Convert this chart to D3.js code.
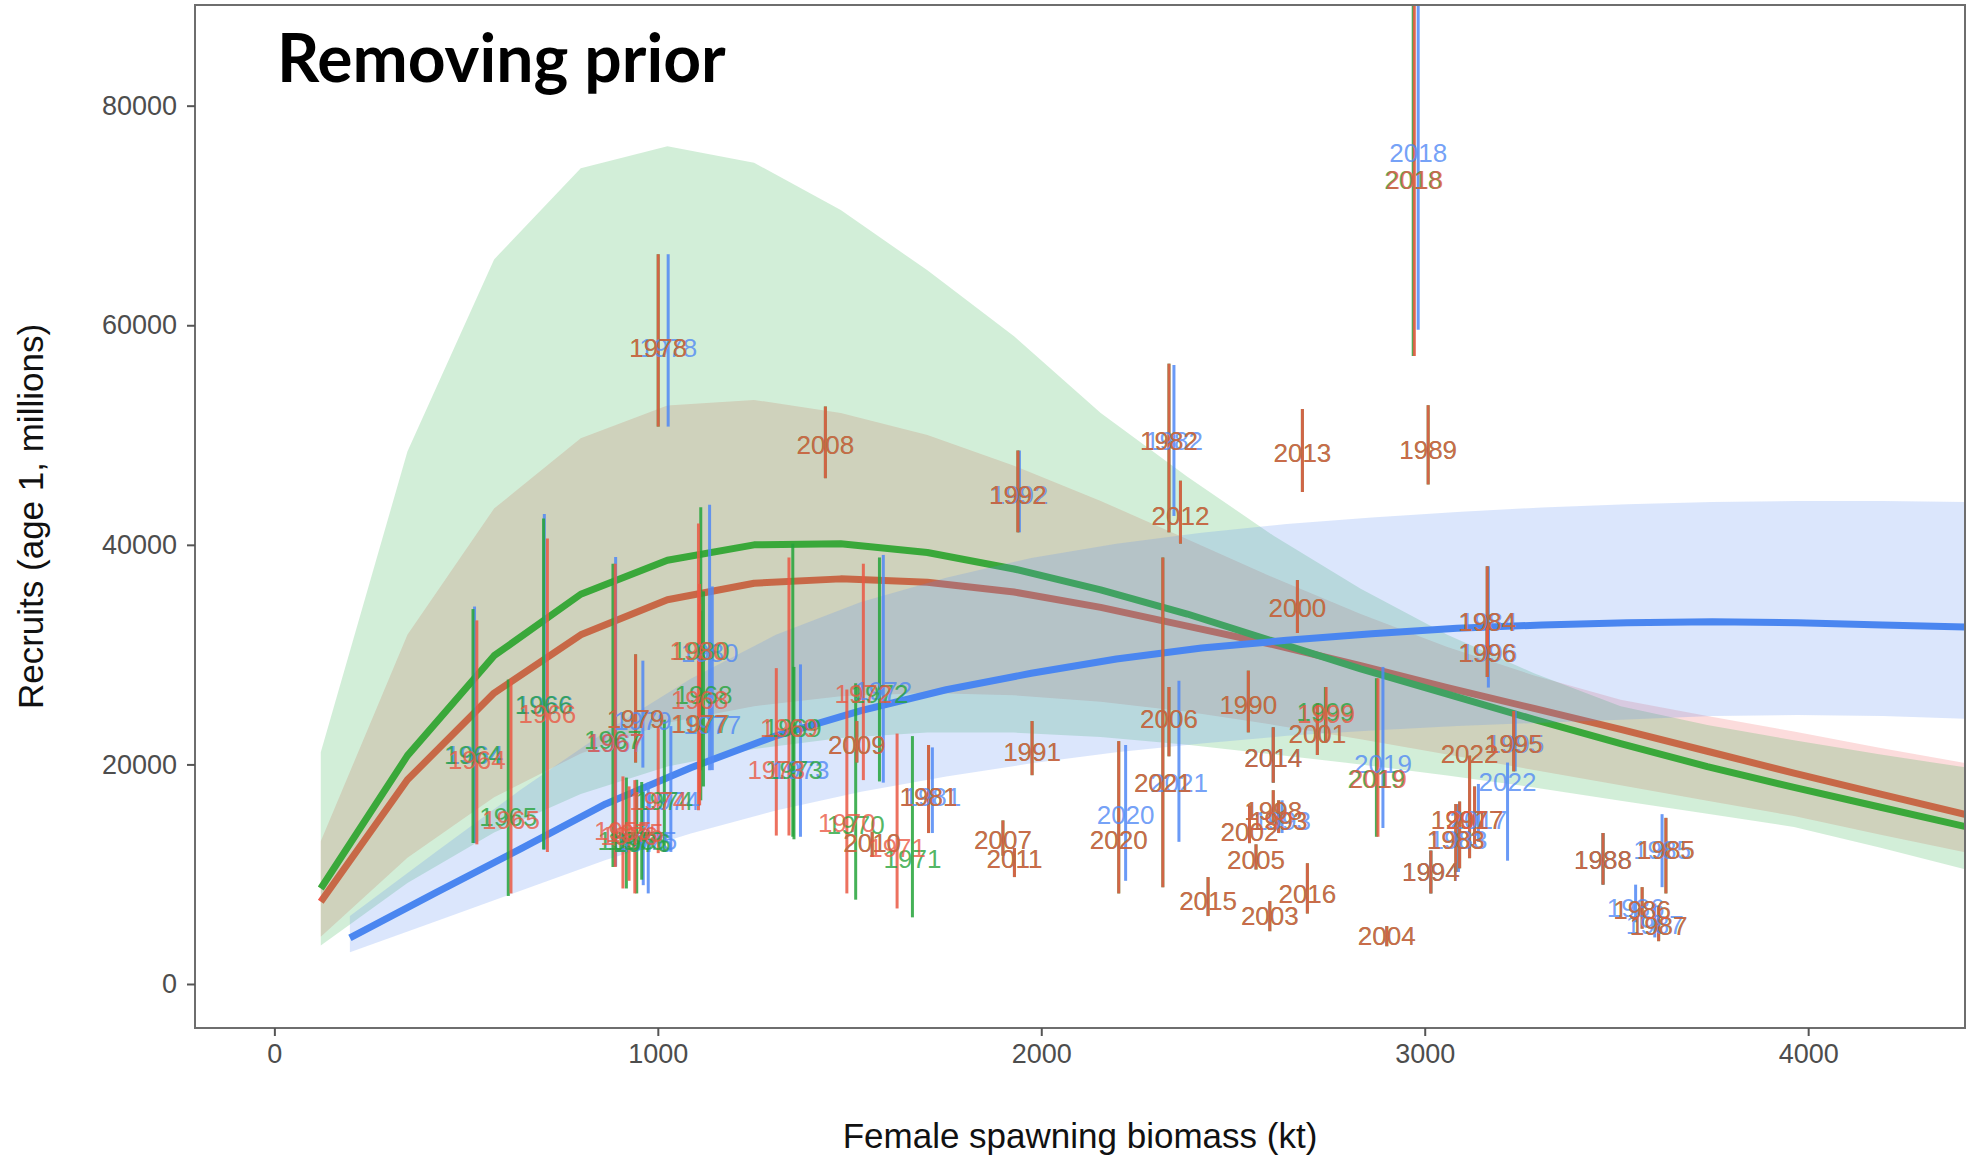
<!DOCTYPE html>
<html>
<head>
<meta charset="utf-8">
<script src="https://cdn.jsdelivr.net/npm/d3@7"></script>
<style>
body { margin: 0; background: #fff; }
text { font-family: "Liberation Sans", Arial, sans-serif; }
</style>
</head>
<body>
<svg width="1973" height="1159"></svg>
<script>
// fitted stock-recruit curves on a biomass grid (kt)
const fitSsb = [121, 347, 573, 799, 1025, 1251, 1477, 1703, 1929, 2155, 2381, 2607, 2833, 3059, 3285, 3511, 3737, 3963, 4189, 4415]
const redFit = [7500, 18600, 26500, 31800, 35000, 36500, 36900, 36600, 35700, 34300, 32600, 30900, 29000, 27000, 25100, 23200, 21200, 19200, 17300, 15400]
const redLo = [4300, 11500, 17000, 21000, 23800, 25300, 26200, 26500, 26300, 25700, 24800, 23600, 22300, 20900, 19500, 18100, 16700, 15300, 13600, 11950]
const redHi = [13000, 31800, 43300, 49700, 52700, 53200, 52000, 50000, 47200, 44000, 40500, 37000, 33700, 30700, 28100, 25900, 24400, 23000, 21500, 20100]
const greenFit = [8700, 20800, 29900, 35500, 38600, 40000, 40100, 39300, 37800, 35900, 33700, 31200, 28700, 26400, 24100, 21900, 19800, 17900, 16100, 14300]
const greenLo = [3500, 9200, 13800, 17300, 19800, 21400, 22400, 22900, 22900, 22500, 21800, 20900, 20000, 19000, 17900, 16700, 15500, 14300, 12400, 10400]
const greenHi = [21100, 48500, 66000, 74300, 76300, 74800, 70500, 65000, 59000, 52000, 46200, 40800, 36000, 31800, 28300, 25300, 23600, 22200, 20900, 19700]

const blueSsb = [197, 420, 642, 864, 1086, 1308, 1530, 1752, 1974, 2196, 2418, 2640, 2862, 3084, 3306, 3528, 3750, 3972, 4194, 4415]
const blueFit = [4200, 8300, 12300, 16400, 19700, 22600, 24900, 26800, 28300, 29600, 30600, 31300, 31900, 32400, 32700, 32900, 33000, 32900, 32700, 32500]
const blueLo = [2900, 5700, 8500, 11300, 13700, 15800, 17500, 18900, 20100, 21100, 21900, 22600, 23100, 23500, 23800, 24100, 24400, 24500, 24400, 24150]
const blueHi = [6200, 12000, 17700, 23000, 27800, 31800, 34800, 37000, 38800, 40100, 41100, 41900, 42500, 43000, 43400, 43700, 43900, 44000, 44000, 43900]

// yearly estimates: [year, biomass, recruits, lower, upper]
const redPts = [
    [1955, 909, 13980, 8700, 18910], [1975, 940, 13750, 8250, 18570], [1976, 925, 13520, 9400, 18000],
    [1964, 528, 20400, 12720, 33120], [1965, 617, 15010, 8250, 27730], [1966, 712, 24640, 12030, 40570],
    [1967, 889, 22000, 10660, 38280], [1968, 1109, 25900, 16270, 36440], [1969, 1342, 23380, 13520, 38850],
    [1970, 1493, 14670, 8250, 26820], [1971, 1624, 12380, 6880, 22810], [1972, 1536, 26470, 18570, 38280],
    [1973, 1309, 19480, 13520, 28770], [1974, 1001, 16730, 11920, 23490],
    [1977, 1109, 23720, 17420, 34610], [1978, 1001, 57990, 50770, 66470],
    [1979, 942, 24180, 20170, 30030], [1980, 1106, 30370, 15820, 41940], [1981, 1706, 17080, 13750, 21770],
    [1982, 2333, 49510, 41140, 56500], [1983, 3081, 13180, 10200, 16390], [1984, 3163, 33010, 30030, 38050],
    [1985, 3629, 12260, 8250, 15130], [1986, 3567, 6760, 5040, 8820], [1987, 3610, 5270, 3900, 7110],
    [1988, 3465, 11350, 9050, 13750], [1989, 3009, 48710, 45500, 52720], [1990, 2540, 25440, 22920, 28540],
    [1991, 1976, 21200, 19020, 23950], [1992, 1939, 44580, 41140, 48590], [1993, 2619, 14900, 13750, 16730],
    [1994, 3016, 10200, 8250, 12150], [1995, 3232, 21890, 19370, 24870], [1996, 3163, 30140, 27960, 32890],
    [1997, 3091, 15010, 10540, 16620], [1998, 2605, 15820, 14780, 17650], [1999, 2743, 24640, 22000, 27050],
    [2000, 2668, 34270, 31970, 36790], [2001, 2720, 22810, 20860, 25560], [2002, 2543, 13870, 12830, 16270],
    [2003, 2596, 6190, 4810, 7560], [2004, 2901, 4360, 3440, 5270], [2005, 2560, 11350, 10430, 12720],
    [2006, 2333, 24180, 20740, 27050], [2007, 1900, 13180, 11690, 14900], [2008, 1437, 49160, 46070, 52600],
    [2009, 1519, 21770, 20170, 23950], [2010, 1559, 12830, 11570, 13870], [2011, 1930, 11460, 9740, 12380],
    [2012, 2363, 42630, 40110, 45840], [2013, 2681, 48360, 44810, 52370], [2014, 2605, 20630, 18340, 23380],
    [2015, 2435, 7560, 6190, 9740], [2016, 2694, 8250, 6420, 11000], [2017, 3130, 15010, 12720, 17990],
    [2018, 2973, 73230, 57190, 99000], [2019, 2878, 18680, 13410, 27850], [2020, 2202, 13180, 8250, 22120],
    [2021, 2317, 18340, 8820, 38850], [2022, 3117, 20970, 11460, 20800]
]

const greenPts = [
    [1955, 918, 13060, 8700, 18800], [1975, 945, 13060, 8250, 18600], [1976, 958, 12840, 9500, 18400],
    [1964, 518, 20860, 12840, 34150], [1965, 610, 15200, 8020, 27730], [1966, 702, 25440, 12260, 42400],
    [1967, 883, 22300, 10660, 38280], [1968, 1119, 26360, 17990, 35760], [1969, 1352, 23380, 13410, 40110],
    [1970, 1516, 14550, 7680, 27390], [1971, 1664, 11460, 6070, 22580], [1972, 1578, 26470, 18450, 38850],
    [1973, 1355, 19480, 13180, 28880], [1974, 1017, 16730, 12030, 24070],
    [1977, 1112, 23720, 16730, 34000], [1978, 1001, 57990, 50770, 66470],
    [1979, 942, 24180, 20170, 30030], [1980, 1112, 30370, 19480, 43430], [1981, 1706, 17080, 13750, 21770],
    [1982, 2333, 49510, 41140, 56500], [1983, 3081, 13180, 10200, 16390], [1984, 3163, 33010, 30030, 38050],
    [1985, 3629, 12260, 8250, 15130], [1986, 3567, 6760, 5040, 8820], [1987, 3610, 5270, 3900, 7110],
    [1988, 3465, 11350, 9050, 13750], [1989, 3009, 48710, 45500, 52720], [1990, 2540, 25440, 22920, 28540],
    [1991, 1976, 21200, 19020, 23950], [1992, 1939, 44580, 41140, 48590], [1993, 2619, 14900, 13750, 16730],
    [1994, 3016, 10200, 8250, 12150], [1995, 3232, 21890, 19370, 24870], [1996, 3163, 30140, 27960, 32890],
    [1997, 3091, 15010, 10540, 16620], [1998, 2605, 15820, 14780, 17650], [1999, 2741, 24780, 22000, 27050],
    [2000, 2668, 34270, 31970, 36790], [2001, 2720, 22810, 20860, 25560], [2002, 2543, 13870, 12830, 16270],
    [2003, 2596, 6190, 4810, 7560], [2004, 2901, 4360, 3440, 5270], [2005, 2560, 11350, 10430, 12720],
    [2006, 2333, 24180, 20740, 27050], [2007, 1900, 13180, 11690, 14900], [2008, 1437, 49160, 46070, 52600],
    [2009, 1519, 21770, 20170, 23950], [2010, 1559, 12830, 11570, 13870], [2011, 1930, 11460, 9740, 12380],
    [2012, 2363, 42630, 40110, 45840], [2013, 2681, 48360, 44810, 52370], [2014, 2605, 20630, 18340, 23380],
    [2015, 2435, 7560, 6190, 9740], [2016, 2694, 8250, 6420, 11000], [2017, 3130, 15010, 12720, 17990],
    [2018, 2970, 73230, 57190, 99000], [2019, 2874, 18680, 13410, 27850], [2020, 2202, 13180, 8250, 22120],
    [2021, 2317, 18340, 8820, 38850], [2022, 3117, 20970, 11460, 20800]
]

const bluePts = [
    [1964, 522, 20860, 12840, 34380], [1966, 704, 25440, 12260, 42800], [1967, 890, 22000, 10700, 38900],
    [1972, 1588, 26700, 18340, 39080], [1973, 1372, 19480, 13410, 29110], [1974, 1034, 16730, 12030, 23490],
    [1975, 975, 13060, 8250, 18340], [1976, 962, 12840, 9000, 18000], [1977, 1142, 23610, 19480, 36210],
    [1978, 1027, 57990, 50770, 66470], [1979, 961, 23950, 19710, 29450], [1980, 1135, 30140, 19480, 43660],
    [1981, 1716, 17080, 13750, 21550], [1982, 2346, 49510, 42630, 56380], [1983, 3088, 13180, 10200, 16390],
    [1984, 3166, 33010, 30000, 38050], [1985, 3619, 12260, 8820, 15470], [1986, 3550, 6990, 5620, 9050],
    [1987, 3600, 5390, 4240, 7330], [1988, 3465, 11350, 9050, 13750], [1992, 1943, 44580, 41140, 48590],
    [1993, 2628, 14900, 13750, 16730], [1994, 3016, 10200, 8250, 12150], [1995, 3236, 21890, 19370, 24870],
    [1996, 3166, 30140, 27000, 32890], [2014, 2605, 20630, 18340, 23380], [2017, 3140, 15010, 12950, 18220],
    [2018, 2983, 75750, 59590, 99000], [2019, 2891, 20060, 14210, 28880], [2020, 2220, 15470, 9400, 21770],
    [2021, 2359, 18340, 12950, 27620], [2022, 3216, 18450, 11230, 20170]
]

const xTicks = [0, 1000, 2000, 3000, 4000]
const yTicks = [0, 20000, 40000, 60000, 80000]

const svg = d3.select("svg")
const panel = {left: 195, right: 1965, top: 5, bottom: 1028}

const x = d3.scaleLinear().domain([-207, 4409]).range([panel.left, panel.right])
const y = d3.scaleLinear().domain([-4008, 89170]).range([panel.bottom, panel.top])

svg.append("defs").append("clipPath").attr("id", "clip")
    .append("rect")
    .attr("x", panel.left).attr("y", panel.top)
    .attr("width", panel.right - panel.left).attr("height", panel.bottom - panel.top)

const plot = svg.append("g").attr("clip-path", "url(#clip)")

// drawn in this order: red, then green, then blue ribbons cover the lines below them
const series = [
    {ssb: fitSsb, fit: redFit, lo: redLo, hi: redHi, pts: redPts,
        fill: "rgb(240,80,80)", line: "#F2584A", mark: "#EA5843"},
    {ssb: fitSsb, fit: greenFit, lo: greenLo, hi: greenHi, pts: greenPts,
        fill: "rgb(30,170,60)", line: "#3AA83A", mark: "#25A33A"},
    {ssb: blueSsb, fit: blueFit, lo: blueLo, hi: blueHi, pts: bluePts,
        fill: "rgb(90,140,240)", line: "#4A86F0", mark: "#5088F5"}
]

const area = d3.area()
    .x(d => x(d[0]))
    .y0(d => y(d[1]))
    .y1(d => y(d[2]))

const line = d3.line()
    .x(d => x(d[0]))
    .y(d => y(d[1]))

series.forEach(s => {
    const band = s.ssb.map((v, i) => [v, s.lo[i], s.hi[i]])
    const mid = s.ssb.map((v, i) => [v, s.fit[i]])

    plot.append("path")
        .datum(band)
        .attr("d", area)
        .style("fill", s.fill)
        .style("fill-opacity", s === series[2] ? 0.22 : 0.2)

    plot.append("path")
        .datum(mid)
        .attr("d", line)
        .style("fill", "none")
        .style("stroke", s.line)
        .style("stroke-width", 7)
        .style("stroke-linejoin", "round")
})

// error bars then year labels, blue underneath, red on top
const order = [series[2], series[1], series[0]]

order.forEach(s => {
    plot.append("g")
        .selectAll("line")
        .data(s.pts)
        .enter()
        .append("line")
        .attr("x1", d => x(d[1]))
        .attr("x2", d => x(d[1]))
        .attr("y1", d => y(d[3]))
        .attr("y2", d => y(d[4]))
        .style("stroke", s.mark)
        .style("stroke-width", 3)
        .style("stroke-opacity", 0.85)
})

order.forEach(s => {
    plot.append("g")
        .selectAll("text")
        .data(s.pts)
        .enter()
        .append("text")
        .attr("x", d => x(d[1]))
        .attr("y", d => y(d[2]))
        .attr("dy", "0.36em")
        .style("text-anchor", "middle")
        .style("font-size", "26px")
        .style("fill", s.mark)
        .style("fill-opacity", 0.8)
        .text(d => d[0])
})

// panel border
svg.append("rect")
    .attr("x", panel.left).attr("y", panel.top)
    .attr("width", panel.right - panel.left).attr("height", panel.bottom - panel.top)
    .style("fill", "none")
    .style("stroke", "#6e6e6e")
    .style("stroke-width", 2)

const xAxis = svg.append("g")
    .attr("transform", `translate(0, ${panel.bottom})`)
    .call(d3.axisBottom(x).tickValues(xTicks).tickSize(8).tickPadding(8).tickFormat(d3.format("d")))

const yAxis = svg.append("g")
    .attr("transform", `translate(${panel.left}, 0)`)
    .call(d3.axisLeft(y).tickValues(yTicks).tickSize(8).tickPadding(10).tickFormat(d3.format("d")))

;[xAxis, yAxis].forEach(a => {
    a.select(".domain").remove()
    a.selectAll(".tick line").style("stroke", "#555").style("stroke-width", 2)
    a.selectAll(".tick text")
        .style("font-family", "Liberation Sans, Arial, sans-serif")
        .style("font-size", "27px")
        .style("fill", "#4d4d4d")
})

svg.append("text")
    .attr("x", (panel.left + panel.right) / 2)
    .attr("y", 1136)
    .attr("dy", "0.35em")
    .style("text-anchor", "middle")
    .style("font-size", "35px")
    .style("fill", "#111")
    .text("Female spawning biomass (kt)")

svg.append("text")
    .attr("transform", `translate(31, ${(panel.top + panel.bottom) / 2}) rotate(-90)`)
    .attr("dy", "0.35em")
    .style("text-anchor", "middle")
    .style("font-size", "35px")
    .style("fill", "#111")
    .text("Recruits (age 1, millions)")

svg.append("text")
    .attr("x", 277)
    .attr("y", 82)
    .style("font-family", "Lato, 'Open Sans', sans-serif")
    .style("font-weight", "bold")
    .style("font-size", "66px")
    .style("fill", "#000")
    .text("Removing prior")
</script>
</body>
</html>
